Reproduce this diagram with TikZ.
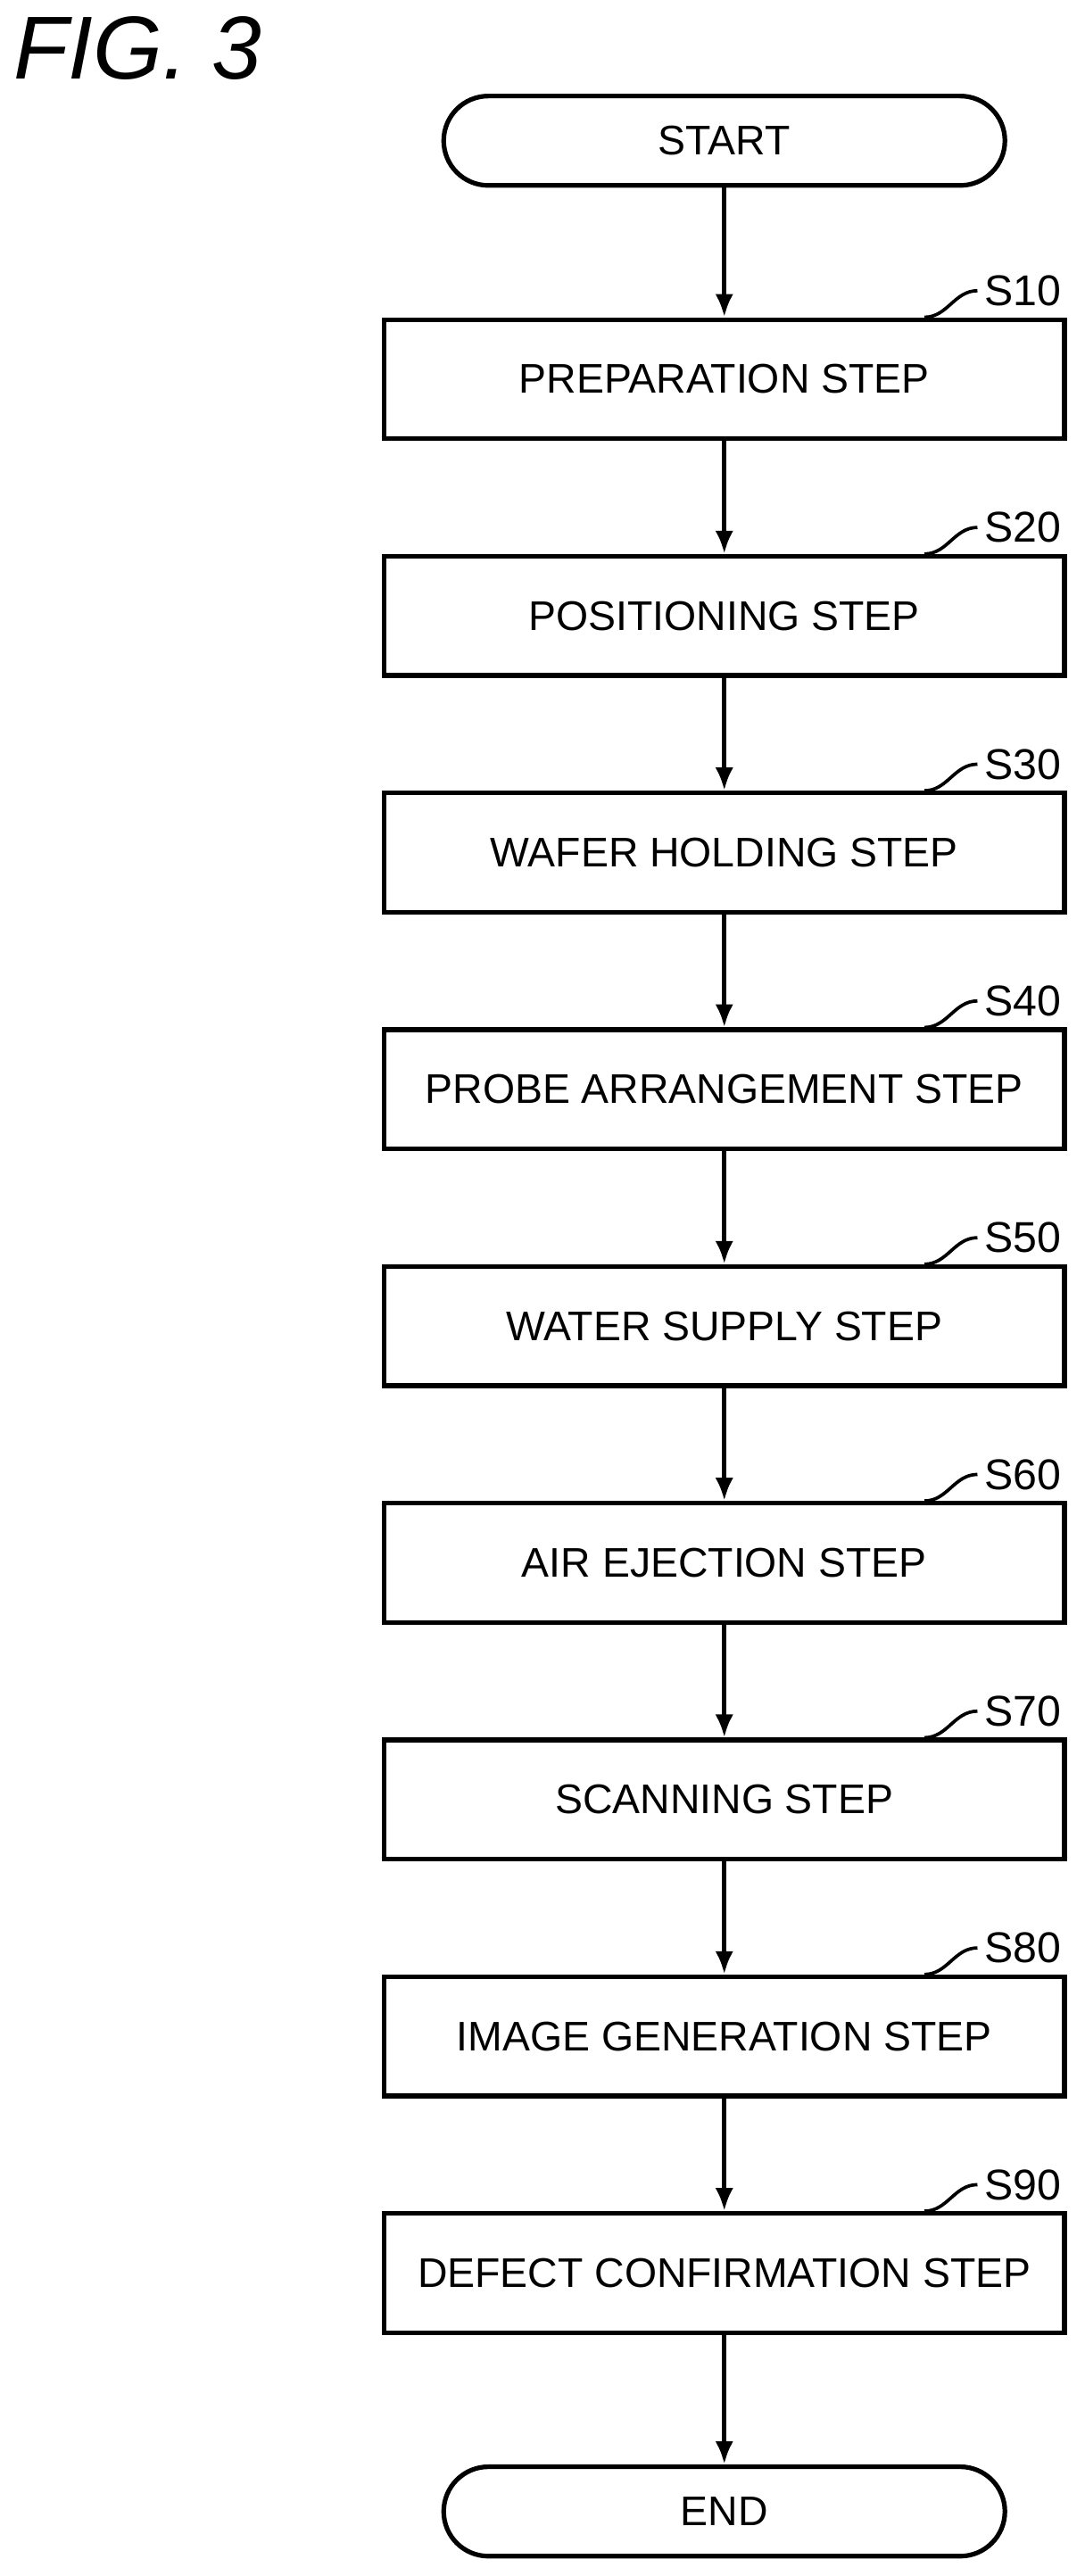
\documentclass[tikz,border=0pt]{standalone}
\usepackage{fontspec}
\setmainfont{Liberation Sans}
\usetikzlibrary{arrows.meta}
\begin{document}
\begin{tikzpicture}[x=1pt,y=-1pt,
  box/.style={draw,line width=2.8pt,minimum width=411pt,minimum height=72pt,inner sep=0pt,font=\fontsize{25}{28}\selectfont},
  term/.style={box,rounded corners=27pt,minimum width=339pt,minimum height=54pt},
  arr/.style={line width=2.8pt,-{Latex[length=14pt,width=11pt]}},
  lbl/.style={font=\fontsize{26}{28}\selectfont,anchor=west,inner sep=0pt},
  lead/.style={line width=2pt}]
\useasboundingbox (0,0) rectangle (655,1556);
\node[anchor=north west,inner sep=0pt,font=\itshape\fontsize{54}{58}\selectfont] (fig) at (8,10) {FIG. 3};
\node[term] (start) at (437.5,85) {START};
\node[box] (b1) at (437.5,229) {PREPARATION STEP};
\node[box] (b2) at (437.5,372) {POSITIONING STEP};
\node[box] (b3) at (437.5,515) {WAFER HOLDING STEP};
\node[box] (b4) at (437.5,658) {PROBE ARRANGEMENT STEP};
\node[box] (b5) at (437.5,801) {WATER SUPPLY STEP};
\node[box] (b6) at (437.5,944) {AIR EJECTION STEP};
\node[box] (b7) at (437.5,1087) {SCANNING STEP};
\node[box] (b8) at (437.5,1230) {IMAGE GENERATION STEP};
\node[box] (b9) at (437.5,1373) {DEFECT CONFIRMATION STEP};
\node[term] (end) at (437.5,1517) {END};
\draw[arr] (start) -- (b1);
\foreach \a/\b in {b1/b2,b2/b3,b3/b4,b4/b5,b5/b6,b6/b7,b7/b8,b8/b9,b9/end} \draw[arr] (\a) -- (\b);
\foreach \i in {1,...,9}{
  \coordinate (c\i) at ([xshift=-86pt]b\i.north east);
  \node[lbl] (s\i) at ([xshift=-50pt,yshift=16pt]b\i.north east) {S\i0};
  \draw[lead] (c\i) .. controls +(14,0) and +(-14,0) .. ([xshift=-4pt]s\i.west);
}
\end{tikzpicture}
\end{document}
